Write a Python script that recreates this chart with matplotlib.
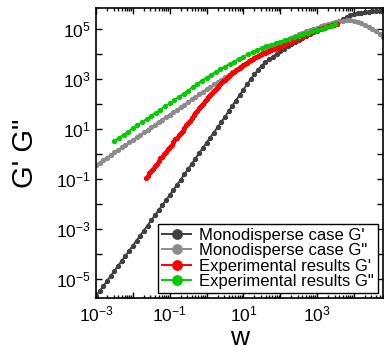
import numpy as np
import matplotlib
matplotlib.use("Agg")
import matplotlib.pyplot as plt
from matplotlib.ticker import FixedLocator, FuncFormatter, LogLocator, NullFormatter, NullLocator

plt.rcParams['font.family'] = ['Liberation Sans', 'DejaVu Sans']
plt.rcParams['mathtext.fontset'] = 'custom'
plt.rcParams['mathtext.rm'] = 'Liberation Sans'
plt.rcParams['mathtext.it'] = 'Liberation Sans:italic'
plt.rcParams['mathtext.bf'] = 'Liberation Sans:bold'

# ---- data (log10 values) ----
# frequency grids (log10 w)
logw_mono = np.round(np.arange(-3.0, 4.801, 0.1), 3)
logw_exp_gp = np.round(np.arange(-1.65, 3.551, 0.05), 3)
logw_exp_gpp = np.round(np.arange(-2.5, 3.501, 0.125), 3)

# Monodisperse case G'
log_mono_gp = [-5.68, -5.48, -5.28, -5.08, -4.88, -4.67, -4.47, -4.27, -4.07, -3.87,
               -3.66, -3.46, -3.26, -3.06, -2.86, -2.65, -2.45, -2.25, -2.05, -1.85,
               -1.64, -1.43, -1.23, -1.02, -0.81, -0.60, -0.39, -0.18, 0.03, 0.24,
               0.45, 0.66, 0.86, 1.07, 1.28, 1.49, 1.71, 1.93, 2.14, 2.36,
               2.57, 2.79, 2.99, 3.19, 3.37, 3.54, 3.68, 3.79, 3.90, 4.01,
               4.12, 4.22, 4.32, 4.41, 4.50, 4.58, 4.66, 4.74, 4.81, 4.87,
               4.93, 4.98, 5.04, 5.11, 5.18, 5.25, 5.32, 5.40, 5.48, 5.55,
               5.59, 5.63, 5.66, 5.68, 5.70, 5.72, 5.73, 5.74, 5.75]

# Monodisperse case G"
log_mono_gpp = [-0.44, -0.34, -0.24, -0.14, -0.04, 0.07, 0.17, 0.27, 0.37, 0.47,
                0.57, 0.67, 0.77, 0.87, 0.97, 1.08, 1.18, 1.28, 1.38, 1.48,
                1.58, 1.68, 1.78, 1.88, 1.98, 2.09, 2.19, 2.29, 2.39, 2.49,
                2.59, 2.69, 2.79, 2.89, 2.98, 3.08, 3.17, 3.27, 3.37, 3.47,
                3.56, 3.66, 3.76, 3.85, 3.94, 4.03, 4.12, 4.20, 4.28, 4.36,
                4.44, 4.51, 4.58, 4.65, 4.72, 4.79, 4.85, 4.91, 4.96, 5.01,
                5.06, 5.11, 5.15, 5.19, 5.23, 5.27, 5.31, 5.33, 5.35, 5.35,
                5.33, 5.29, 5.23, 5.17, 5.09, 5.00, 4.90, 4.79, 4.68]

# Experimental results G'
log_exp_gp = [-0.97, -0.88, -0.76, -0.68, -0.60, -0.48, -0.40, -0.29, -0.17, -0.10,
              0.00, 0.08, 0.21, 0.30, 0.37, 0.48, 0.60, 0.66, 0.77, 0.86,
              0.94, 1.05, 1.16, 1.25, 1.33, 1.44, 1.55, 1.64, 1.74, 1.84,
              1.93, 2.02, 2.11, 2.20, 2.29, 2.38, 2.46, 2.54, 2.61, 2.68,
              2.76, 2.84, 2.91, 2.98, 3.05, 3.12, 3.18, 3.24, 3.30, 3.36,
              3.41, 3.46, 3.51, 3.56, 3.61, 3.66, 3.71, 3.76, 3.80, 3.84,
              3.88, 3.92, 3.96, 3.99, 4.03, 4.06, 4.09, 4.12, 4.16, 4.19,
              4.22, 4.25, 4.28, 4.31, 4.34, 4.37, 4.40, 4.43, 4.47, 4.50,
              4.54, 4.57, 4.61, 4.64, 4.67, 4.70, 4.74, 4.77, 4.80, 4.83,
              4.87, 4.90, 4.93, 4.96, 4.99, 5.01, 5.04, 5.06, 5.09, 5.11,
              5.13, 5.15, 5.17, 5.19, 5.21]

# Experimental results G"
log_exp_gpp = [0.52, 0.65, 0.77, 0.90, 1.03, 1.15, 1.28, 1.40, 1.53, 1.66,
               1.78, 1.91, 2.03, 2.16, 2.29, 2.41, 2.54, 2.68, 2.81, 2.94,
               3.06, 3.17, 3.29, 3.40, 3.50, 3.60, 3.70, 3.80, 3.90, 3.99,
               4.08, 4.16, 4.24, 4.31, 4.38, 4.44, 4.50, 4.56, 4.62, 4.68,
               4.73, 4.79, 4.84, 4.90, 4.95, 5.01, 5.07, 5.13, 5.19]

labels = ["Monodisperse case G'", 'Monodisperse case G"',
          "Experimental results G'", 'Experimental results G"']
colors = ['#404040', '#8c8c8c', '#ff0000', '#00cc00']

xlim_exp = (-3.0, 4.79)
ylim_exp = (-5.76, 5.84)
x_major_exp = list(range(-3, 5))
y_major_exp = list(range(-5, 6))

# ---- figure ----
fig = plt.figure(figsize=(3.84, 3.50), dpi=100)
ax = fig.add_axes([96/384, 1-298/350, (383-96)/384, (298-8)/350])

series = [(logw_mono, log_mono_gp), (logw_mono, log_mono_gpp),
          (logw_exp_gp, log_exp_gp), (logw_exp_gpp, log_exp_gpp)]
for (lx, ly), lab, c in zip(series, labels, colors):
    ax.plot(10**np.asarray(lx), 10**np.asarray(ly), '-o', color=c, lw=1.4,
            ms=2.8, mec=c, mfc=c, label=lab)

ax.set_xscale('log')
ax.set_yscale('log')
ax.set_xlim(10**xlim_exp[0], 10**xlim_exp[1])
ax.set_ylim(10**ylim_exp[0], 10**ylim_exp[1])

def odd_fmt(v, pos):
    e = int(round(np.log10(v)))
    return r'$\mathdefault{10^{%d}}$' % e if e % 2 != 0 else ''

ax.xaxis.set_major_locator(FixedLocator([10.0**e for e in x_major_exp]))
ax.xaxis.set_major_formatter(FuncFormatter(odd_fmt))
ax.xaxis.set_minor_locator(LogLocator(base=10, subs=np.arange(2, 10), numticks=50))
ax.xaxis.set_minor_formatter(NullFormatter())
ax.yaxis.set_major_locator(FixedLocator([10.0**e for e in y_major_exp]))
ax.yaxis.set_major_formatter(FuncFormatter(odd_fmt))
ax.yaxis.set_minor_locator(NullLocator())

ax.tick_params(which='both', direction='in', top=True, right=True, width=1.0,
               labelsize=12.5, colors='black')
ax.tick_params(which='major', length=4.5)
ax.tick_params(which='minor', length=2.5)
ax.tick_params(axis='x', pad=5)
ax.tick_params(axis='y', pad=4)
for s in ax.spines.values():
    s.set_linewidth(1.2)

ax.set_xlabel('w', fontsize=19, labelpad=1)
ax.set_ylabel('G\' G"', fontsize=21, labelpad=12)

leg = ax.legend(loc='lower right', fontsize=12, markerscale=2.4, frameon=True,
                fancybox=False, edgecolor='black', framealpha=1.0,
                borderaxespad=0.3, labelspacing=0.02, handlelength=1.7,
                handletextpad=0.5, borderpad=0.25)
leg.get_frame().set_linewidth(1.0)

fig.savefig('out.png', dpi=100)
